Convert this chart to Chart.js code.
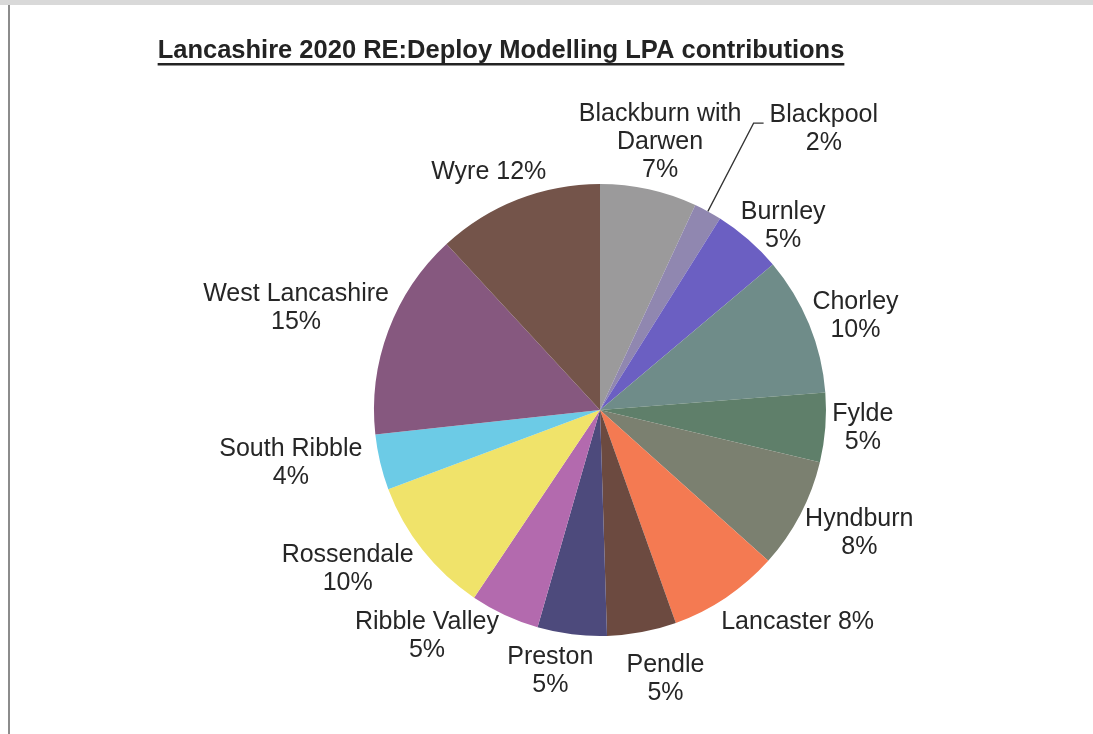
<!DOCTYPE html>
<html>
<head>
<meta charset="utf-8">
<title>Lancashire 2020 RE:Deploy Modelling LPA contributions</title>
<script src="https://cdn.jsdelivr.net/npm/chart.js@4.4.1/dist/chart.umd.min.js"></script>
<style>
  html, body { margin: 0; padding: 0; background: #ffffff; }
  #frame {
    position: absolute; left: 0; top: 0; width: 1093px; height: 734px;
    overflow: hidden; background: #ffffff;
  }
  #frame:before {
    /* scanned page edge, top and left */
    content: ''; position: absolute; left: 0; top: 0; right: 0; height: 5px;
    background: #d9d9d9;
  }
  #frame:after {
    content: ''; position: absolute; left: 8px; top: 5px; bottom: 0; width: 2px;
    background: #8c8c8c;
  }
  #pie { position: absolute; left: 0; top: 0; }
</style>
</head>
<body>
<div id="frame">
  <canvas id="pie" width="1093" height="734"></canvas>
</div>
<script>
// LPA areas, clockwise from 12 o'clock
var areas = ['Blackburn with\nDarwen', 'Blackpool', 'Burnley', 'Chorley', 'Fylde', 'Hyndburn',
  'Lancaster', 'Pendle', 'Preston', 'Ribble Valley', 'Rossendale', 'South Ribble',
  'West Lancashire', 'Wyre'];
// share of the modelled total, per cent
var shares = [7, 2, 5, 10, 5, 8, 8, 5, 5, 5, 10, 4, 15, 12];
// these two have the percentage on the same line as the name
var sameLineLabels = ['Lancaster', 'Wyre'];

var sliceColours = ['#9b9a9b', '#9087b0', '#6b5fc2', '#6f8c89', '#5f7f6a', '#7b8070',
  '#f47a52', '#6c4a40', '#4d4a7c', '#b36aae', '#f0e36a', '#6ccbe6', '#86587f', '#74544a'];

// hand-dragged label offsets (px) on top of the automatic outside-end position
var labelNudge = {
  'Blackburn with\nDarwen': [-12, 5], 'Blackpool': [-5, 5], 'Burnley': [-5, 20],
  'Chorley': [-6, 8], 'Fylde': [-3, -3], 'Hyndburn': [-4, -2], 'Lancaster': [15, 2],
  'Pendle': [13, 9], 'Preston': [-14, -1], 'Ribble Valley': [-37, -16],
  'Rossendale': [-5, -8], 'South Ribble': [-8, -9], 'West Lancashire': [10, -7],
  'Wyre': [0, -4]
};

var titleText = 'Lancashire 2020 RE:Deploy Modelling LPA contributions';
var labelFont = '25px "Liberation Sans", Arial, sans-serif';
var lineH = 28;

function labelLines(i) {
  var name = areas[i];
  if (sameLineLabels.indexOf(name) >= 0) return [name + ' ' + shares[i] + '%'];
  return name.split('\n').concat([shares[i] + '%']);
}

function clamp(v) { return Math.max(-1, Math.min(1, v)); }

// title with underline
var titlePlugin = {
  id: 'underlinedTitle',
  afterDraw: function(chart) {
    var ctx = chart.ctx;
    ctx.save();
    ctx.font = 'bold 25.5px "Liberation Sans", Arial, sans-serif';
    ctx.fillStyle = '#232323';
    ctx.textAlign = 'center';
    ctx.textBaseline = 'alphabetic';
    var cx = 501, base = 58;
    ctx.fillText(titleText, cx, base);
    var w = ctx.measureText(titleText).width;
    ctx.fillRect(cx - w / 2, base + 5, w, 2.5);
    ctx.restore();
  }
};

// outside-end labels for each slice
var sliceLabels = {
  id: 'sliceLabels',
  afterDatasetsDraw: function(chart) {
    var ctx = chart.ctx;
    var meta = chart.getDatasetMeta(0);
    var total = shares.reduce(function(a, b) { return a + b; }, 0);
    ctx.save();
    ctx.font = labelFont;
    ctx.fillStyle = '#262626';
    ctx.textAlign = 'center';
    ctx.textBaseline = 'middle';
    meta.data.forEach(function(arc, i) {
      var p = arc.getProps(['x', 'y', 'startAngle', 'endAngle', 'outerRadius'], true);
      var mid = (p.startAngle + p.endAngle) / 2;
      var dx = Math.cos(mid), dy = Math.sin(mid);
      var nudge = labelNudge[areas[i]] || [0, 0];
      var lines = labelLines(i);
      var w = Math.max.apply(null, lines.map(function(t) { return ctx.measureText(t).width; }));
      var h = lines.length * lineH;
      var cx, cy;
      if (shares[i] / total < 0.03) {
        // thin slice: pull the label out on a leader line
        var ex = p.x + dx * p.outerRadius, ey = p.y + dy * p.outerRadius;
        var kx = p.x + dx * p.outerRadius * 1.47 + nudge[0];
        var ky = p.y + dy * p.outerRadius * 1.47 + nudge[1];
        ctx.save();
        ctx.strokeStyle = '#333333';
        ctx.lineWidth = 1.3;
        ctx.beginPath();
        ctx.moveTo(ex, ey);
        ctx.lineTo(kx, ky);
        ctx.lineTo(kx + 10, ky);
        ctx.stroke();
        ctx.restore();
        cx = kx + 16 + w / 2;
        cy = ky - 8 + (h - lineH) / 2;
      } else {
        var r = p.outerRadius + 10;
        var ax = p.x + dx * r, ay = p.y + dy * r;
        cx = ax + (w / 2) * clamp(dx * 1.2) + nudge[0];
        cy = ay + (h / 2) * clamp(dy * 1.2) + nudge[1];
      }
      lines.forEach(function(t, j) {
        ctx.fillText(t, cx, cy - h / 2 + lineH / 2 + j * lineH);
      });
    });
    ctx.restore();
  }
};

var canvas = document.getElementById('pie');
new Chart(canvas, {
  type: 'pie',
  data: {
    labels: areas,
    datasets: [{
      data: shares,
      backgroundColor: sliceColours,
      borderWidth: 0,
      hoverOffset: 0
    }]
  },
  options: {
    responsive: false,
    animation: false,
    events: [],
    layout: { padding: { left: 374, right: 267, top: 184, bottom: 98 } },
    plugins: {
      legend: { display: false },
      title: { display: false },
      tooltip: { enabled: false }
    }
  },
  plugins: [titlePlugin, sliceLabels]
});
</script>
</body>
</html>
